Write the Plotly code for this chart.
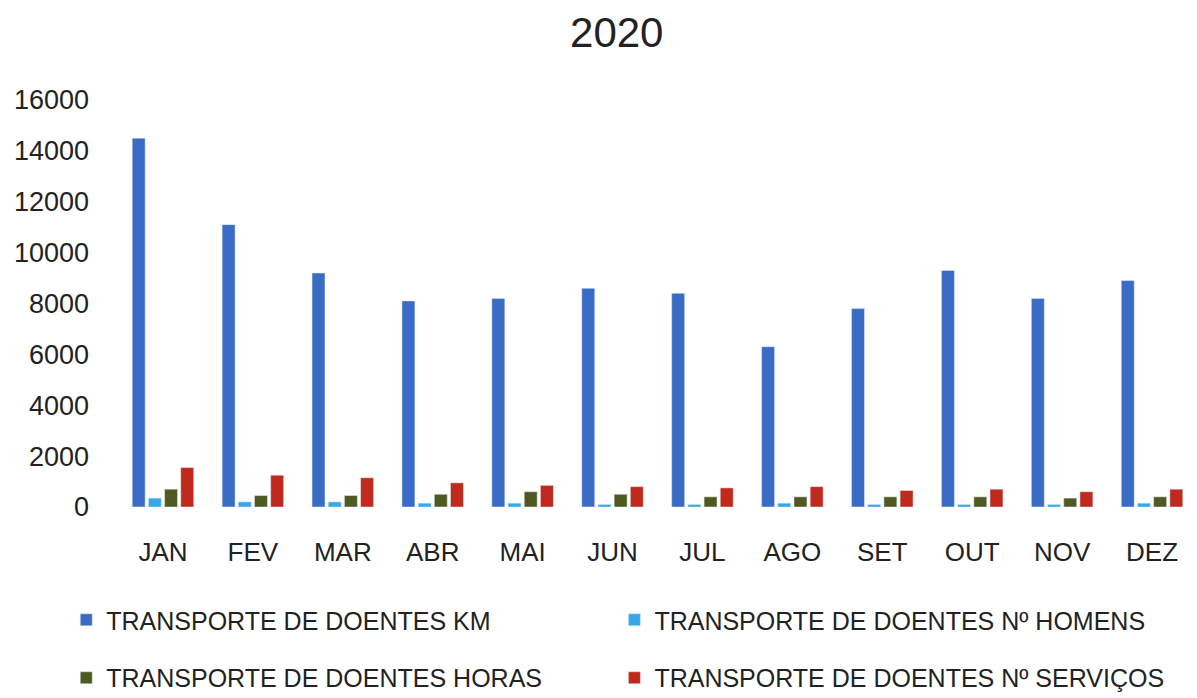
import plotly.graph_objects as go

months = ["JAN", "FEV", "MAR", "ABR", "MAI", "JUN", "JUL", "AGO", "SET", "OUT", "NOV", "DEZ"]

km =       [14500, 11100, 9200, 8100, 8200, 8600, 8400, 6300, 7800, 9300, 8200, 8900]
homens =   [350, 200, 200, 150, 150, 100, 100, 150, 100, 100, 100, 150]
horas =    [700, 450, 450, 500, 600, 500, 400, 400, 400, 400, 350, 400]
servicos = [1550, 1250, 1150, 950, 850, 800, 750, 800, 650, 700, 600, 700]

names = [
    "TRANSPORTE DE DOENTES KM",
    "TRANSPORTE DE DOENTES Nº HOMENS",
    "TRANSPORTE DE DOENTES HORAS",
    "TRANSPORTE DE DOENTES Nº SERVIÇOS",
]
colors = ["#3a6cc6", "#35a8e8", "#4e5a22", "#bf2a1c"]
values = [km, homens, horas, servicos]

# one legend per entry so the 2x2 grid of the reference can be placed exactly
legend_ids = ["legend", "legend2", "legend3", "legend4"]
legend_pos = [(0.049, 0.113), (0.51, 0.113), (0.049, 0.029), (0.51, 0.029)]

fig = go.Figure()
for name, vals, color, leg in zip(names, values, colors, legend_ids):
    fig.add_trace(go.Bar(x=months, y=vals, name=name, marker_color=color,
                         legend=leg, showlegend=True))

font = "Liberation Sans"
legends = {}
for leg, (lx, ly) in zip(legend_ids, legend_pos):
    legends[leg] = dict(orientation="h", xref="container", yref="container",
                        x=lx, y=ly, xanchor="left", yanchor="middle",
                        font=dict(family=font, size=25, color="#222"))

# page body has an 8px margin, so the figure is 8px smaller to fit the window
fig.update_layout(
    width=1189, height=690,
    showlegend=True,
    paper_bgcolor="white", plot_bgcolor="white",
    barmode="group", bargap=0.28, bargroupgap=0.2,
    title=dict(text="2020", x=0.512, xanchor="center", y=0.965, yanchor="middle",
               font=dict(family=font, size=42, color="#222")),
    margin=dict(l=110, r=0, t=92, b=191, autoexpand=False),
    font=dict(family=font, size=24, color="#222"),
    **legends,
)
fig.update_yaxes(range=[0, 16000], dtick=2000, tickformat="d", showgrid=False,
                 zeroline=False, showline=False, tickfont=dict(size=27), ticks="",
                 ticklabelstandoff=28)
fig.update_xaxes(showgrid=False, showline=False, tickfont=dict(size=26), ticks="",
                 ticklabelstandoff=27)

fig.write_html("out.html")
